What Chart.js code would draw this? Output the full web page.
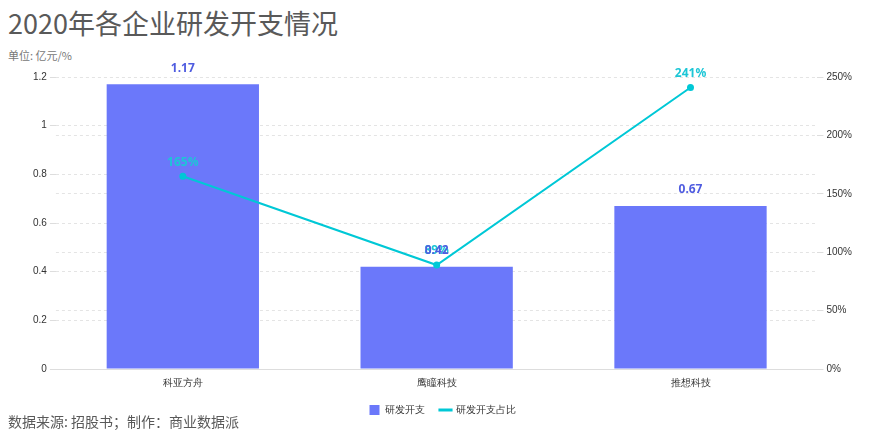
<!DOCTYPE html>
<html>
<head>
<meta charset="utf-8">
<script src="https://cdn.jsdelivr.net/npm/chart.js@4/dist/chart.umd.min.js"></script>
<style>
  body { margin: 0; background: #fff; font-family: "Noto Sans CJK SC", "Noto Sans", sans-serif; }
  #title { position: absolute; left: 8px; top: 3px; font-size: 27px; color: #595959; }
  #unit { position: absolute; left: 8px; top: 47px; font-size: 11px; color: #777; }
  #source { position: absolute; left: 8px; top: 411px; font-size: 14px; color: #595959; }
  #wrap { position: absolute; left: 0; top: 62px; width: 871px; height: 363px; }
</style>
</head>
<body>
<div id="title">2020年各企业研发开支情况</div>
<div id="unit">单位: 亿元/%</div>
<div id="wrap"><canvas id="chart"></canvas></div>
<div id="source">数据来源: 招股书；制作：商业数据派</div>
<script>
const companies = ['科亚方舟', '鹰瞳科技', '推想科技'];
const rdSpend = [1.17, 0.42, 0.67];
const rdRatio = [165, 89, 241];
const leftTicks = [0, 0.2, 0.4, 0.6, 0.8, 1, 1.2];
const rightTicks = [0, 50, 100, 150, 200, 250];

const barColor = '#6b78fa';
const lineColor = '#00c8d6';

// simple value labels above bars and points
const valueLabels = {
  id: 'valueLabels',
  afterDatasetsDraw(chart) {
    const ctx = chart.ctx;
    ctx.save();
    ctx.setLineDash([]);
    ctx.font = 'bold 12px "Noto Sans", sans-serif';
    ctx.textAlign = 'center';
    ctx.textBaseline = 'bottom';
    chart.data.datasets.forEach((ds, i) => {
      const meta = chart.getDatasetMeta(i);
      ctx.fillStyle = ds.labelColor;
      meta.data.forEach((el, j) => {
        const text = ds.type === 'line' ? `${ds.data[j]}%` : ds.data[j].toFixed(2);
        const off = ds.type === 'line' ? 8 : 10;
        ctx.fillText(text, el.x, el.y - off);
      });
    });
    ctx.restore();
  },
};

new Chart(document.getElementById('chart'), {
  data: {
    labels: companies,
    datasets: [
      {
        type: 'line',
        label: '研发开支占比',
        data: rdRatio,
        yAxisID: 'y1',
        borderColor: lineColor,
        backgroundColor: lineColor,
        borderWidth: 2,
        borderDash: [],
        pointRadius: 2.5,
        tension: 0,
        labelColor: '#1cc6d6',
        order: 0,
      },
      {
        type: 'bar',
        label: '研发开支',
        data: rdSpend,
        yAxisID: 'y',
        backgroundColor: barColor,
        categoryPercentage: 0.6,
        barPercentage: 1,
        labelColor: '#4f5ce0',
        order: 1,
      },
    ],
  },
  options: {
    responsive: true,
    maintainAspectRatio: false,
    animation: false,
    layout: { padding: { top: 15, left: 30, right: 16, bottom: 0 } },
    plugins: {
      legend: {
        position: 'bottom',
        reverse: true,
        labels: {
          usePointStyle: true,
          boxWidth: 10,
          boxHeight: 10,
          color: '#333',
          font: { size: 10 },
          padding: 16,
          generateLabels(chart) {
            return chart.data.datasets.map((ds, i) => ({
              text: ds.label,
              fillStyle: ds.type === 'line' ? lineColor : barColor,
              strokeStyle: ds.type === 'line' ? lineColor : barColor,
              lineWidth: ds.type === 'line' ? 3 : 0,
              lineDash: [],
              pointStyle: ds.type === 'line' ? 'line' : 'rect',
              fontColor: '#333',
              datasetIndex: i,
              hidden: false,
            }));
          },
        },
      },
      tooltip: { enabled: false },
    },
    scales: {
      x: {
        grid: { display: false },
        border: { color: '#ddd' },
        ticks: { color: '#333', font: { size: 10 }, padding: 0 },
      },
      y: {
        position: 'left',
        min: 0,
        max: 1.2,
        afterBuildTicks(axis) { axis.ticks = leftTicks.map((v) => ({ value: v })); },
        border: { display: false, dash: [3, 3] },
        grid: { color: '#e4e4e4', tickLength: 6, tickBorderDash: [], tickColor: '#ddd' },
        ticks: { color: '#333', font: { size: 10 }, padding: 3, callback: (v) => `${v}` },
      },
      y1: {
        position: 'right',
        min: 0,
        max: 250,
        afterBuildTicks(axis) { axis.ticks = rightTicks.map((v) => ({ value: v })); },
        border: { display: false, dash: [3, 3] },
        grid: { color: '#e4e4e4', tickLength: 6, tickBorderDash: [], tickColor: '#ddd' },
        ticks: { color: '#333', font: { size: 10 }, padding: 3, callback: (v) => `${v}%` },
      },
    },
  },
  plugins: [valueLabels],
});
</script>
</body>
</html>
